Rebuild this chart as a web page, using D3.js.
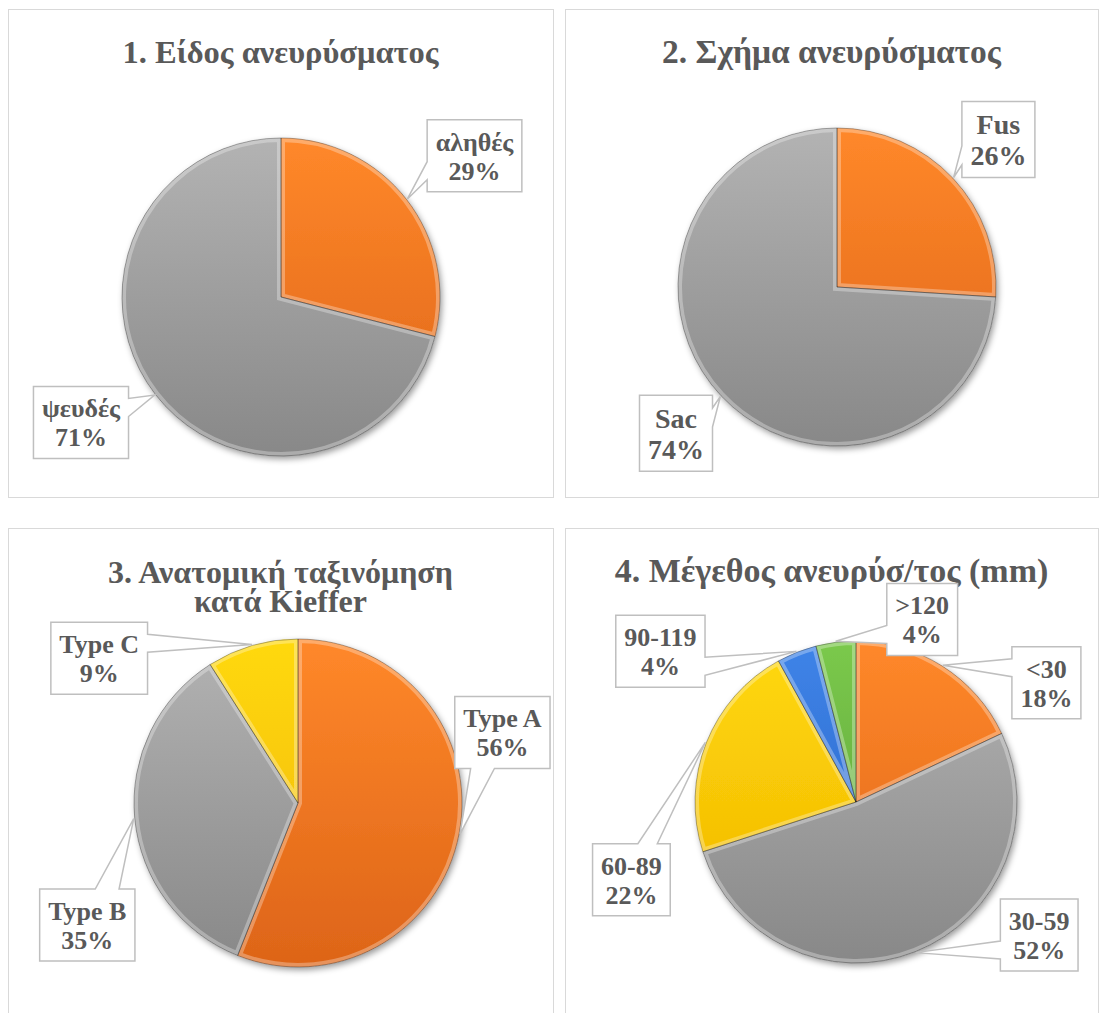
<!DOCTYPE html>
<html>
<head>
<meta charset="utf-8">
<script src="https://cdn.jsdelivr.net/npm/d3@7"></script>
<style>
  body { margin: 0; background: #fff; }
  svg text { font-family: "Liberation Serif", "Times New Roman", "DejaVu Serif", serif; font-weight: bold; fill: #595959; }
</style>
</head>
<body>
<div class="container"></div>
<script>
// data
const titles = [
  ['1. Είδος ανευρύσματος'],
  ['2. Σχήμα ανευρύσματος'],
  ['3. Ανατομική ταξινόμηση', 'κατά Kieffer'],
  ['4. Μέγεθος ανευρύσ/τος (mm)']
];
const labels1 = ['αληθές', 'ψευδές'];
const values1 = [29, 71];
const labels2 = ['Fus', 'Sac'];
const values2 = [26, 74];
const labels3 = ['Type A', 'Type B', 'Type C'];
const values3 = [56, 35, 9];
const labels4 = ['<30', '30-59', '60-89', '90-119', '>120'];
const values4 = [18, 52, 22, 4, 4];

// colours: [top, bottom] of the gradient
const palette = [
  ['#FF882A', '#DD6418'],
  ['#B3B3B3', '#888888'],
  ['#FFD90C', '#F0B400'],
  ['#3F84E8', '#2660C2'],
  ['#7BC94C', '#589C33']
];

// layout of each panel
const panels = [
  { x: 8, y: 9, w: 545, h: 488, titleY: 63, tfs: 32.5, cx: 281, cy: 297, r: 159, fs: 26,
    labels: labels1, values: values1, boxes: [[474.5, 155.7], [81, 422.5]] },
  { x: 565, y: 9, w: 533, h: 488, titleY: 63, tfs: 33.5, cx: 837, cy: 287, r: 159, fs: 28,
    labels: labels2, values: values2, boxes: [[998.4, 139.5], [676, 433.3]] },
  { x: 8, y: 528, w: 545, h: 500, titleY: 583, tfs: 32, cx: 298, cy: 803, r: 164, fs: 26,
    labels: labels3, values: values3, boxes: [[502.4, 732.5], [87.3, 925], [99.2, 658.3]] },
  { x: 565, y: 528, w: 533, h: 500, titleY: 582, tfs: 34, cx: 856, cy: 802, r: 161, fs: 26,
    labels: labels4, values: values4,
    boxes: [[1046.4, 682.7], [1039.2, 935], [631.4, 879.7], [660.4, 651.3], [922.2, 619.5]] }
];

const svg = d3.select('.container')
  .append('svg')
  .attr('width', 1106)
  .attr('height', 1013);

const defs = svg.append('defs');

const shadow = defs.append('filter').attr('id', 'shadow')
  .attr('x', '-20%').attr('y', '-20%').attr('width', '140%').attr('height', '140%');
shadow.append('feDropShadow')
  .attr('dx', 2).attr('dy', 3).attr('stdDeviation', 3)
  .attr('flood-color', '#000').attr('flood-opacity', 0.4);

// wedge rectangle callout (same geometry as office "wedgeRectCallout")
let callout = (l, t, w, h, px, py) => {
  const hc = l + w / 2, vc = t + h / 2, r = l + w, b = t + h;
  const dx = px - hc, dy = py - vc;
  const dz = Math.abs(dy) - Math.abs(dx * h / w);
  const x1 = l + w * (dx > 0 ? 7 : 2) / 12, x2 = l + w * (dx > 0 ? 10 : 5) / 12;
  const y1 = t + h * (dy > 0 ? 7 : 2) / 12, y2 = t + h * (dy > 0 ? 10 : 5) / 12;
  const xl = dz > 0 ? l : (dx > 0 ? l : px);
  const yl = dz > 0 ? y1 : (dx > 0 ? y1 : py);
  const xt = dz > 0 ? (dy > 0 ? x1 : px) : x1;
  const yt = dz > 0 ? (dy > 0 ? t : py) : t;
  const xr = dz > 0 ? r : (dx > 0 ? px : r);
  const yr = dz > 0 ? y1 : (dx > 0 ? py : y1);
  const xb = dz > 0 ? (dy > 0 ? px : x1) : x1;
  const yb = dz > 0 ? (dy > 0 ? py : b) : b;
  const pts = [[l, t], [x1, t], [xt, yt], [x2, t], [r, t], [r, y1], [xr, yr], [r, y2], [r, b],
    [x2, b], [xb, yb], [x1, b], [l, b], [l, y2], [xl, yl], [l, y1]];
  return d3.line()(pts) + 'Z';
}

let render = () => {
  panels.forEach((p, pi) => {
    const g = svg.append('g');

    g.append('rect')
      .attr('x', p.x + 0.5).attr('y', p.y + 0.5)
      .attr('width', p.w).attr('height', p.h)
      .attr('fill', '#fff').attr('stroke', '#D9D9D9');

    // title (one text element, a tspan per line)
    const tcx = p.x + p.w / 2;
    const title = g.append('text')
      .attr('x', tcx).attr('y', p.titleY)
      .attr('text-anchor', 'middle')
      .attr('font-size', p.tfs);
    titles[pi].forEach((line, li) => {
      title.append('tspan')
        .attr('x', tcx)
        .attr('dy', li === 0 ? 0 : 29)
        .text(line);
    });

    // gradients for this pie (in the pie's own coords)
    palette.forEach((c, ci) => {
      const grad = defs.append('linearGradient')
        .attr('id', `g${pi}_${ci}`)
        .attr('gradientUnits', 'userSpaceOnUse')
        .attr('x1', 0).attr('x2', 0)
        .attr('y1', -p.r).attr('y2', p.r);
      grad.append('stop').attr('offset', 0).attr('stop-color', c[0]);
      grad.append('stop').attr('offset', 1).attr('stop-color', c[1]);
    });

    const pie = d3.pie().sort(null).value(d => d);
    const arcs = pie(p.values);
    const arc = d3.arc().innerRadius(0).outerRadius(p.r);
    const edge = d3.arc().innerRadius(p.r + 1).outerRadius(p.r + 1);

    const pg = g.append('g').attr('transform', `translate(${p.cx},${p.cy})`);
    const shadowG = pg.append('g').attr('filter', 'url(#shadow)');

    arcs.forEach((d, i) => {
      defs.append('clipPath').attr('id', `c${pi}_${i}`)
        .append('path')
        .attr('d', arc(d));

      shadowG.append('path')
        .attr('d', arc(d))
        .attr('fill', `url(#g${pi}_${i})`);
    });

    // bevel: light rim inside each slice, thin dark outline
    arcs.forEach((d, i) => {
      pg.append('path')
        .attr('d', arc(d))
        .attr('fill', 'none')
        .attr('stroke', '#fff')
        .attr('stroke-opacity', 0.3)
        .attr('stroke-width', 8)
        .attr('clip-path', `url(#c${pi}_${i})`);
      pg.append('path')
        .attr('d', arc(d))
        .attr('fill', 'none')
        .attr('stroke', '#000')
        .attr('stroke-opacity', 0.3)
        .attr('stroke-width', 1);
    });

    // labels
    const lineH = Math.round(p.fs * 1.1);
    arcs.forEach((d, i) => {
      const [bx, by] = p.boxes[i];
      const tip = edge.centroid(d);
      const px = tip[0] + p.cx, py = tip[1] + p.cy;
      const lines = [p.labels[i], d.data + '%'];

      const lg = g.append('g');
      const path = lg.append('path');
      const texts = lines.map((s, li) => lg.append('text')
        .attr('x', bx)
        .attr('y', by - lineH / 2 + 0.36 * p.fs + li * lineH)
        .attr('text-anchor', 'middle')
        .attr('font-size', p.fs)
        .text(s));
      const tw = d3.max(texts, t => t.node().getComputedTextLength());
      const w = tw + 17, h = lineH * 2 + 14;
      path.attr('d', callout(bx - w / 2, by - h / 2, w, h, px, py))
        .attr('fill', '#fff')
        .attr('stroke', '#BFBFBF')
        .attr('stroke-width', 1.5);
    });
  });
}

render();
</script>
</body>
</html>
